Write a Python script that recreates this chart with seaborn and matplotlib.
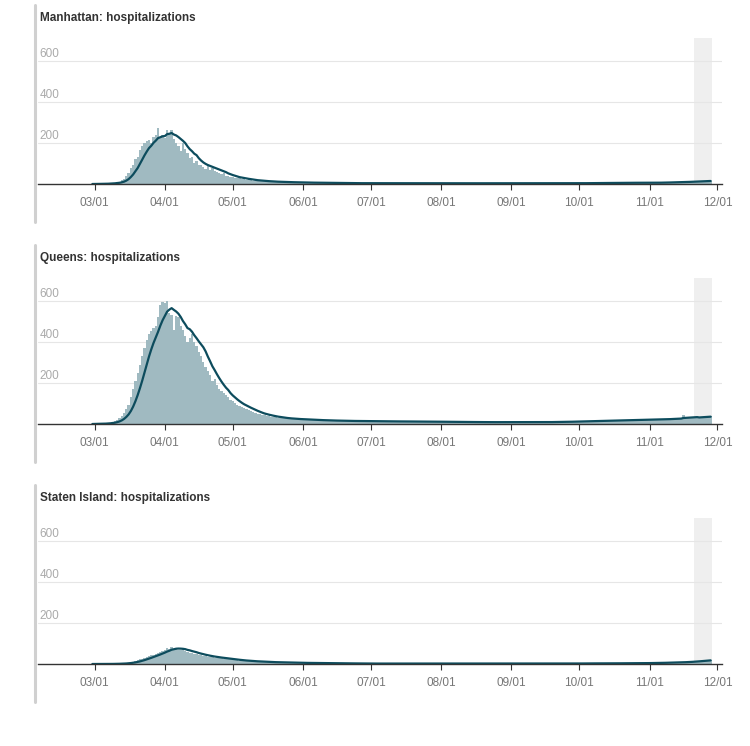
import matplotlib
matplotlib.use('Agg')
import matplotlib.pyplot as plt
import matplotlib.dates as mdates
from matplotlib.lines import Line2D
import numpy as np
import pandas as pd
import seaborn as sns

# daily hospitalizations, 2020-02-29 .. 2020-11-28
dates = pd.date_range('2020-02-29', '2020-11-28', freq='D')

manhattan = (
    [0]
    + [0, 1, 1, 1, 2, 2, 3, 4, 5, 7, 9, 12, 18, 25, 40, 55, 80, 95, 120, 130,
       165, 185, 200, 210, 215, 200, 230, 240, 272, 230, 240]
    + [225, 264, 245, 264, 220, 200, 185, 160, 200, 170, 150, 125, 130, 100, 110,
       95, 92, 85, 75, 90, 70, 80, 65, 60, 55, 50, 55, 40, 38, 35]
    + [33, 30, 28, 30, 25, 22, 20, 22, 18, 17, 16, 15, 15, 14, 13, 12, 12, 11, 11,
       10, 10, 10, 9, 9, 9, 8, 8, 8, 8, 7, 7]
    + [7, 7, 7, 6, 6, 6, 6, 6, 5, 5, 5, 5, 5, 5, 5, 5, 5, 4, 4, 4, 4, 4, 4, 4, 4,
       4, 4, 4, 4, 4]
    + [4, 4, 4, 3, 4, 4, 5, 4, 4, 4, 3, 4, 4, 4, 4, 3, 4, 4, 4, 4, 3, 4, 4, 4, 4,
       4, 3, 4, 4, 4, 4]
    + [4, 3, 4, 4, 3, 4, 4, 3, 4, 4, 3, 3, 4, 4, 3, 4, 3, 4, 3, 4, 3, 3, 4, 3, 3,
       4, 3, 3, 4, 3, 3]
    + [3, 4, 3, 3, 4, 3, 4, 3, 4, 4, 3, 4, 4, 4, 3, 4, 4, 4, 4, 4, 4, 4, 4, 4, 4,
       4, 4, 4, 4, 4]
    + [4, 4, 4, 4, 5, 5, 5, 5, 5, 5, 5, 5, 5, 5, 5, 5, 6, 6, 6, 6, 6, 6, 6, 6, 6,
       6, 6, 6, 6, 6, 6]
    + [6, 6, 6, 7, 7, 7, 7, 8, 8, 8, 9, 9, 9, 10, 10, 10, 11, 11, 12, 12, 13, 13,
       14, 14, 15, 15, 16, 16]
)

queens = (
    [0]
    + [1, 1, 2, 2, 3, 4, 5, 7, 10, 14, 20, 28, 40, 55, 75, 95, 130, 170, 210, 250,
       290, 330, 370, 410, 440, 455, 470, 480, 520, 580, 595]
    + [590, 600, 540, 530, 460, 525, 520, 480, 460, 430, 400, 420, 440, 400, 380,
       350, 330, 300, 280, 260, 240, 210, 220, 190, 170, 160, 150, 140, 130, 115]
    + [110, 100, 95, 90, 85, 80, 75, 70, 62, 58, 55, 50, 48, 45, 42, 40, 38, 36,
       34, 32, 30, 30, 28, 27, 26, 25, 25, 24, 24, 23, 22]
    + [22, 22, 21, 20, 20, 19, 19, 18, 18, 18, 17, 17, 17, 16, 16, 16, 16, 15, 15,
       15, 15, 15, 15, 14, 14, 14, 14, 14, 14, 14]
    + [14, 14, 13, 13, 13, 14, 13, 13, 13, 12, 13, 13, 12, 12, 12, 13, 12, 12, 12,
       12, 12, 12, 11, 12, 11, 11, 12, 11, 11, 11, 11]
    + [11, 11, 10, 10, 11, 10, 10, 10, 10, 10, 10, 10, 9, 10, 9, 10, 9, 9, 9, 9,
       9, 9, 9, 9, 9, 9, 9, 9, 10, 9, 9]
    + [9, 9, 9, 9, 9, 9, 8, 9, 9, 9, 9, 9, 9, 9, 9, 9, 10, 10, 10, 10, 10, 10, 11,
       11, 11, 11, 12, 12, 12, 12]
    + [13, 13, 13, 14, 14, 14, 15, 15, 15, 15, 16, 16, 16, 17, 17, 17, 17, 18, 18,
       18, 18, 19, 19, 19, 19, 20, 20, 20, 20, 21, 21]
    + [21, 22, 22, 22, 23, 23, 24, 24, 25, 25, 26, 26, 27, 28, 28, 45, 30, 30, 31,
       32, 33, 34, 34, 35, 36, 36, 37, 38]
)

staten_island = (
    [0]
    + [0, 0, 0, 0, 0, 0, 1, 1, 1, 1, 2, 2, 3, 4, 5, 7, 9, 12, 15, 18, 22, 26, 30,
       34, 38, 42, 46, 50, 55, 60, 65]
    + [70, 78, 74, 85, 72, 78, 70, 68, 72, 62, 60, 56, 54, 50, 48, 45, 42, 40, 38,
       36, 35, 33, 31, 30, 29, 27, 26, 25, 23, 22]
    + [20, 19, 18, 17, 16, 15, 15, 14, 13, 12, 12, 11, 11, 10, 10, 9, 9, 9, 8, 8,
       8, 7, 7, 7, 7, 6, 6, 6, 6, 6, 5]
    + [5, 5, 5, 5, 4, 4, 4, 4, 4, 4, 4, 3, 3, 3, 3, 3, 3, 3, 3, 3, 3, 3, 3, 3, 3,
       2, 2, 2, 2, 2]
    + [2, 2, 2, 3, 2, 2, 2, 2, 1, 2, 2, 2, 2, 2, 3, 2, 2, 2, 2, 2, 2, 1, 2, 2, 2,
       2, 2, 2, 2, 2, 2]
    + [2, 2, 2, 2, 2, 2, 2, 2, 2, 2, 2, 2, 2, 2, 2, 2, 2, 2, 2, 2, 2, 2, 2, 2, 2,
       2, 2, 2, 2, 2, 2]
    + [2, 2, 2, 2, 2, 2, 2, 2, 2, 2, 2, 2, 2, 2, 2, 2, 2, 2, 2, 2, 2, 2, 2, 2, 2,
       2, 2, 2, 3, 3]
    + [3, 3, 3, 3, 3, 3, 3, 3, 3, 3, 3, 3, 3, 3, 3, 3, 4, 4, 4, 4, 4, 4, 4, 4, 4,
       4, 4, 4, 4, 5, 5]
    + [5, 5, 5, 6, 6, 6, 6, 7, 7, 7, 8, 8, 8, 9, 9, 10, 10, 11, 12, 13, 14, 15,
       16, 17, 18, 19, 19, 20]
)

boroughs = ['Manhattan', 'Queens', 'Staten Island']
series = [manhattan, queens, staten_island]
y_ticks = [200, 400, 600]

BAR_COLOR = '#a0bac1'
LINE_COLOR = '#0d4c5d'

sns.set_style('white')
plt.rcParams['font.family'] = ['Liberation Sans', 'DejaVu Sans']

W, H = 750, 746
fig = plt.figure(figsize=(W / 100, H / 100), dpi=100)

for i, (name, vals) in enumerate(zip(boroughs, series)):
    off = 240 * i
    top, base = 38 + off, 184 + off
    ax = fig.add_axes([38 / W, 1 - base / H, 684 / W, (base - top) / H])

    df = pd.DataFrame({'date': dates, 'value': vals})
    df['avg'] = df['value'].rolling(7, min_periods=1).mean()

    ax.axvspan(pd.Timestamp('2020-11-20 12:00'), pd.Timestamp('2020-11-28 12:00'),
               color='#efefef', lw=0, zorder=0)
    for t in y_ticks:
        ax.axhline(t, color='#e6e6e6', lw=0.8, zorder=0.5)
        ax.annotate(str(t), xy=(0.002, t), xycoords=('axes fraction', 'data'),
                    xytext=(0, 1), textcoords='offset points', va='bottom',
                    ha='left', fontsize=8.5, color='#aaaaaa')

    ax.bar(df['date'], df['value'], width=1.0, color=BAR_COLOR, lw=0, zorder=1)
    sns.lineplot(data=df, x='date', y='avg', color=LINE_COLOR, lw=1.6, ax=ax,
                 zorder=2)

    ax.set_xlim(pd.Timestamp('2020-02-05'), pd.Timestamp('2020-12-03'))
    ax.set_ylim(0, 712)
    ax.set_yticks([])
    ax.set_xlabel('')
    ax.set_ylabel('')
    ax.xaxis.set_major_locator(mdates.MonthLocator(bymonth=range(3, 13)))
    ax.xaxis.set_major_formatter(mdates.DateFormatter('%m/%d'))
    ax.tick_params(axis='x', direction='out', length=4, width=0.8, color='#333333',
                   labelsize=8.5, labelcolor='#777777', pad=5, bottom=True)
    for s in ['top', 'left', 'right']:
        ax.spines[s].set_visible(False)
    ax.spines['bottom'].set_color('#333333')
    ax.spines['bottom'].set_linewidth(1.0)

    fig.text(40 / W, 1 - (18 + off) / H, f'{name}: hospitalizations',
             fontsize=8.5, fontweight='bold', color='#333333', va='center', ha='left')
    fig.add_artist(Line2D([35 / W, 35 / W], [1 - (5 + off) / H, 1 - (222 + off) / H],
                          transform=fig.transFigure, color='#d0d0d0', lw=2.2))

fig.savefig('out.png', dpi=100)
